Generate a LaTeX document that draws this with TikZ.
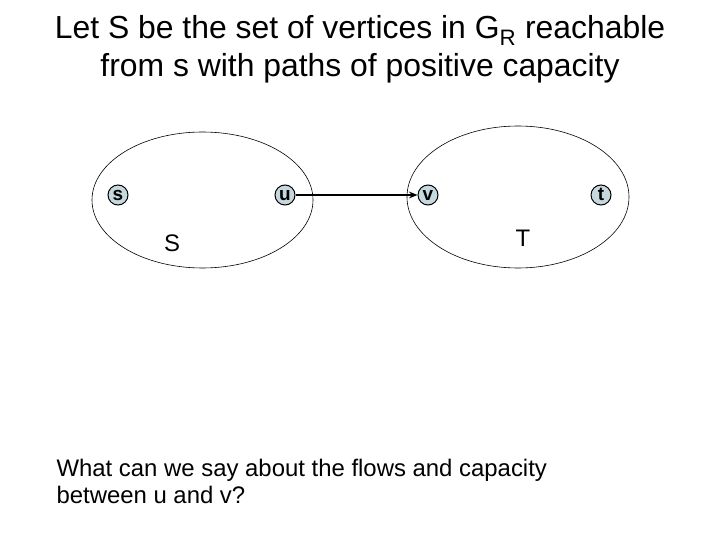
\documentclass[tikz,border=0pt]{standalone}
\usepackage{fontspec}
\setmainfont{Liberation Sans}
\usetikzlibrary{arrows.meta}
\definecolor{vfill}{RGB}{196,216,222}

\tikzset{
  vertex/.style={circle, draw=black, line width=1pt, fill=vfill, inner sep=0pt,
    minimum size=20bp, text height=11pt, text depth=0pt,
    font=\fontsize{19}{19}\selectfont\bfseries},
  setlabel/.style={font=\fontsize{24}{24}\selectfont}
}

\begin{document}
\begin{tikzpicture}[x=1bp, y=-1bp, >={Stealth[length=3mm, width=2.4mm]}]
  \useasboundingbox (0,0) rectangle (720,540);
  % titulo
  \node[align=center, font=\fontsize{32}{38}\selectfont] (title) at (360,49)
    {Let S be the set of vertices in G\textsubscript{R} reachable\\from s with paths of positive capacity};
  % los dos conjuntos
  \draw[line width=0.6pt] (202.5,200) ellipse [x radius=110.5, y radius=68];
  \draw[line width=0.6pt] (518,197) ellipse [x radius=111, y radius=71];
  % vertices
  \node[vertex] (s) at (118,195) {s};
  \node[vertex] (u) at (285,195) {u};
  \node[vertex] (v) at (428,195) {v};
  \node[vertex] (t) at (601,195) {t};
  % arista u -> v
  \draw[->, line width=2.6pt] (u) -- (v);
  % nombres de los conjuntos
  \node[setlabel] (Slabel) at (172,243) {S};
  \node[setlabel] (Tlabel) at (523,238) {T};
  % pregunta
  \node[align=left, anchor=north west, font=\fontsize{24}{27}\selectfont] (question) at (53,456)
    {What can we say about the flows and capacity\\between u and v?};
\end{tikzpicture}
\end{document}
